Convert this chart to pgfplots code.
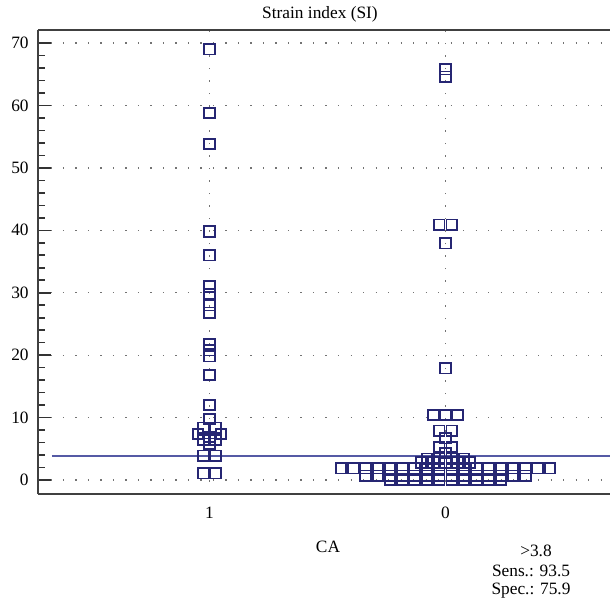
\documentclass[border=0pt]{standalone}
\usepackage{fontspec}
\setmainfont{Liberation Serif}
\usepackage{pgfplots}
\pgfplotsset{compat=1.18}

\definecolor{markblue}{RGB}{38,38,115}
\definecolor{cutblue}{RGB}{85,90,165}

\begin{document}
\begin{tikzpicture}
\fontsize{13}{15.6}\selectfont
\begin{axis}[
  scale only axis,
  width=429pt, height=348pt,
  xmin=38, xmax=610,
  ymin=-2.243, ymax=72.08,
  clip=false,
  axis x line=box, axis y line=left,
  axis line style={-, black!75, line width=1.1pt},
  xtick={209.5,445.5}, xticklabels={1,0},
  x tick style={draw=none},
  xticklabel style={yshift=-5pt},
  ytick={0,10,...,70},
  minor y tick num=4,
  tick align=inside,
  major tick length=10pt, minor tick length=5pt,
  y tick style={black!80, line width=1.2pt},
  yticklabel style={xshift=-2.5pt},
  tick label style={font=\fontsize{13}{15.6}\selectfont},
  /pgf/number format/assume math mode=true,
  xmajorgrids, ymajorgrids,
  grid style={black!55, line width=1pt, dash pattern=on 1pt off 8.375pt},
]
% bounding box of the whole figure
\path (rel axis cs:-0.0664,-0.2371) rectangle (rel axis cs:1.0035,1.0647);

% cut-off value
\addplot[cutblue, line width=1.3pt, forget plot] coordinates {(52,3.8) (610,3.8)};

% CA = 1
\addplot[only marks, mark=square, mark size=3.9pt, markblue,
  mark options={line width=1.3pt}]
  coordinates {
  (209.5,69.0) (209.5,58.8) (209.5,53.8) (209.5,39.8) (209.5,36.0)
  (209.5,31.0) (209.5,29.8) (209.5,28.0) (209.5,26.8)
  (209.5,21.8) (209.5,20.8) (209.5,19.8) (209.5,16.8)
  (209.5,12.0) (209.5,9.8)
  (203.5,8.4) (215.5,8.4) (198,7.4) (221,7.4) (209.5,6.9)
  (203.5,6.4) (215.5,6.4) (209.5,5.8)
  (203.5,3.9) (215.5,3.9) (203.5,1.1) (215.5,1.1)
  };

% CA = 0
\addplot[only marks, mark=square, mark size=3.9pt, markblue,
  mark options={line width=1.3pt}]
  coordinates {
  (445.5,65.8) (445.5,64.6) (439.3,40.9) (451.7,40.9) (445.5,37.9)
  (445.5,17.9) (433.2,10.4) (445.5,10.4) (457.8,10.4)
  (439.3,7.9) (451.7,7.9) (445.5,6.7) (439.3,5.3) (451.7,5.3) (445.5,4.3)
  (427,3.4) (439.3,3.4) (451.7,3.4) (464,3.4)
  (420.9,2.8) (433.2,2.8) (445.5,2.8) (457.8,2.8) (470.1,2.8)
  (340.95,1.9) (353.25,1.9) (365.55,1.9) (377.85,1.9) (390.15,1.9)
  (402.45,1.9) (414.75,1.9) (427.05,1.9) (439.35,1.9)
  (451.65,1.9) (463.95,1.9) (476.25,1.9) (488.55,1.9) (500.85,1.9)
  (513.15,1.9) (525.45,1.9) (537.75,1.9) (550.05,1.9)
  (365.55,0.7) (377.85,0.7) (390.15,0.7) (402.45,0.7) (414.75,0.7)
  (427.05,0.7) (439.35,0.7) (451.65,0.7) (463.95,0.7) (476.25,0.7)
  (488.55,0.7) (500.85,0.7) (513.15,0.7) (525.45,0.7)
  (390.15,0) (402.45,0) (414.75,0) (427.05,0) (439.35,0)
  (451.65,0) (463.95,0) (476.25,0) (488.55,0) (500.85,0)
  };

\node[anchor=base] at (axis cs:320,74.0) {Strain index (SI)};
\node[anchor=base] at (axis cs:328,-11.53) {CA};
\node[anchor=base] at (axis cs:536,-12.17) {>3.8};
\node[anchor=base] at (axis cs:531,-15.38) {Sens.: 93.5};
\node[anchor=base] at (axis cs:531,-18.26) {Spec.: 75.9};
\end{axis}
\end{tikzpicture}
\end{document}
